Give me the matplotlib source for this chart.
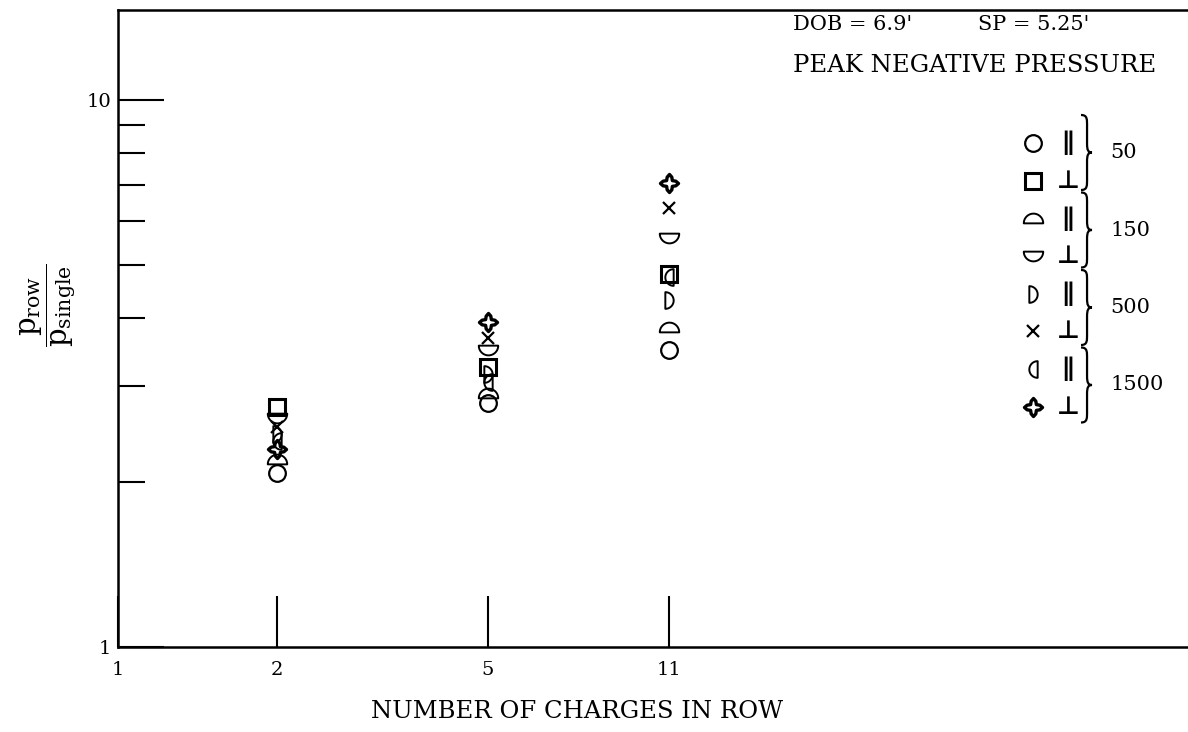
import numpy as np
import matplotlib
matplotlib.use("Agg")
import matplotlib.pyplot as plt
from matplotlib.path import Path
from matplotlib.patches import PathPatch

# data: ratio p_row / p_single for each charge size and orientation
charges = [2, 5, 11]
ratio_50_par = [2.08, 2.79, 3.49]
ratio_50_perp = [2.75, 3.25, 4.80]
ratio_150_par = [2.21, 2.91, 3.85]
ratio_150_perp = [2.62, 3.49, 5.59]
ratio_500_par = [2.45, 3.15, 4.31]
ratio_500_perp = [2.52, 3.67, 6.35]
ratio_1500_par = [2.38, 3.05, 4.75]
ratio_1500_perp = [2.30, 3.93, 7.05]

x_ticks = [1, 2, 5, 11]
y_ticks = [1, 10]
y_minor = [2, 3, 4, 5, 6, 7, 8, 9]
weights = ["50", "150", "500", "1500"]

W, H = 1188, 732
plt.rcParams["font.family"] = ["DejaVu Serif"]
plt.rcParams["mathtext.fontset"] = "dejavuserif"


def fx(x):
    return x / W


def fy(y):
    return 1 - y / H


def half_disc(start):
    t = np.linspace(start, start + np.pi, 40)
    v = np.column_stack([np.cos(t), np.sin(t)])
    v = v - (v.max(axis=0) + v.min(axis=0)) / 2
    return Path(np.vstack([v, v[:1]]), closed=True)


def star4(inner=0.45):
    # four lobed star
    verts, codes = [], []
    for k in range(4):
        a = np.pi / 2 * k
        b = a + np.pi / 4
        tip = (np.cos(a), np.sin(a))
        if k == 0:
            verts.append((inner * np.cos(a - np.pi / 4), inner * np.sin(a - np.pi / 4)))
            codes.append(Path.MOVETO)
        verts += [(0.75 * np.cos(a - 0.35), 0.75 * np.sin(a - 0.35)),
                  tip,
                  (0.75 * np.cos(a + 0.35), 0.75 * np.sin(a + 0.35)),
                  (inner * np.cos(b), inner * np.sin(b))]
        codes += [Path.LINETO] * 4
    verts.append(verts[0])
    codes.append(Path.CLOSEPOLY)
    return Path(verts, codes)


dome = half_disc(0)             # flat bottom
bowl = half_disc(np.pi)         # flat top
dee = half_disc(-np.pi / 2)     # flat left
cee = half_disc(np.pi / 2)      # flat right
star = star4()

series = [ratio_50_par, ratio_50_perp, ratio_150_par, ratio_150_perp,
          ratio_500_par, ratio_500_perp, ratio_1500_par, ratio_1500_perp]
markers = ["o", "s", dome, bowl, dee, "x", cee, star]
sizes = [12, 11, 14, 14, 12, 9, 12, 13]
widths = [1.6, 2.2, 1.4, 1.4, 1.4, 1.6, 1.4, 2.4]
orient = ["\u2225", "\u22a5"] * 4

fig = plt.figure(figsize=(W / 100, H / 100), dpi=100)
ax = fig.add_axes([fx(118), fy(647), 1 - fx(118), fy(10) - fy(647)])
ax.set_xscale("log")
ax.set_yscale("log")
ax.set_xlim(1, 105.4)
ax.set_ylim(1, 14.6)

for vals, m, s, w in zip(series, markers, sizes, widths):
    ax.plot(charges, vals, linestyle="none", marker=m, markersize=s,
            markerfacecolor="none", markeredgecolor="black", markeredgewidth=w)

ax.spines["right"].set_visible(False)
for side in ["left", "bottom", "top"]:
    ax.spines[side].set_linewidth(1.8)

ax.set_xticks(x_ticks)
ax.set_xticklabels([str(v) for v in x_ticks])
ax.xaxis.set_minor_locator(matplotlib.ticker.NullLocator())
ax.tick_params(axis="x", which="major", direction="in", length=37, width=1.5,
               labelsize=14, pad=10)
ax.set_yticks(y_ticks)
ax.set_yticklabels([str(v) for v in y_ticks])
ax.set_yticks(y_minor, minor=True)
ax.yaxis.set_minor_formatter(matplotlib.ticker.NullFormatter())
ax.tick_params(axis="y", which="major", direction="in", length=33, width=1.5,
               labelsize=14, pad=5)
ax.tick_params(axis="y", which="minor", direction="in", length=19.5, width=1.5)

# labels
fig.text(fx(577), fy(712), "NUMBER OF CHARGES IN ROW", ha="center", va="center", fontsize=17.5)
fig.text(fx(48), fy(305), r"$\dfrac{\mathrm{p}_{\mathrm{row}}}{\mathrm{p}_{\mathrm{single}}}$",
         rotation=90, ha="center", va="center", fontsize=21)
fig.text(fx(793), fy(25), "DOB = 6.9'", ha="left", va="center", fontsize=15)
fig.text(fx(978), fy(25), "SP = 5.25'", ha="left", va="center", fontsize=15)
fig.text(fx(793), fy(66), "PEAK NEGATIVE PRESSURE", ha="left", va="center", fontsize=17.5)

# key
row0, step = 143, 37.7
for i, (m, s, w, o) in enumerate(zip(markers, sizes, widths, orient)):
    y = row0 + i * step
    fig.add_artist(matplotlib.lines.Line2D([fx(1033)], [fy(y)], transform=fig.transFigure,
                                           linestyle="none", marker=m, markersize=s,
                                           markerfacecolor="none", markeredgecolor="black",
                                           markeredgewidth=w))
    fig.text(fx(1068), fy(y), o, ha="center", va="center", fontsize=18,
             family=["DejaVu Sans"], fontweight="bold")

for j, lab in enumerate(weights):
    top = 115 + j * 77.5
    bot = top + 75
    mid = (top + bot) / 2
    x0, bw = 1081, 11
    pts = [(0, 0), (0.6, 0), (0.55, 0.06), (0.55, 0.16), (0.55, 0.38),
           (0.55, 0.47), (0.65, 0.5), (1, 0.5), (0.65, 0.5), (0.55, 0.53),
           (0.55, 0.62), (0.55, 0.84), (0.55, 0.94), (0.6, 1), (0, 1)]
    codes = [Path.MOVETO, Path.CURVE4, Path.CURVE4, Path.CURVE4, Path.LINETO,
             Path.CURVE4, Path.CURVE4, Path.CURVE4, Path.CURVE4, Path.CURVE4,
             Path.CURVE4, Path.LINETO, Path.CURVE4, Path.CURVE4, Path.CURVE4]
    verts = [(fx(x0 + px * bw), fy(top + py * (bot - top))) for px, py in pts]
    fig.add_artist(PathPatch(Path(verts, codes), transform=fig.transFigure,
                             fill=False, lw=1.6, edgecolor="black"))
    fig.text(fx(1110), fy(mid), lab, ha="left", va="center", fontsize=15)

fig.savefig("out.png", dpi=100)
